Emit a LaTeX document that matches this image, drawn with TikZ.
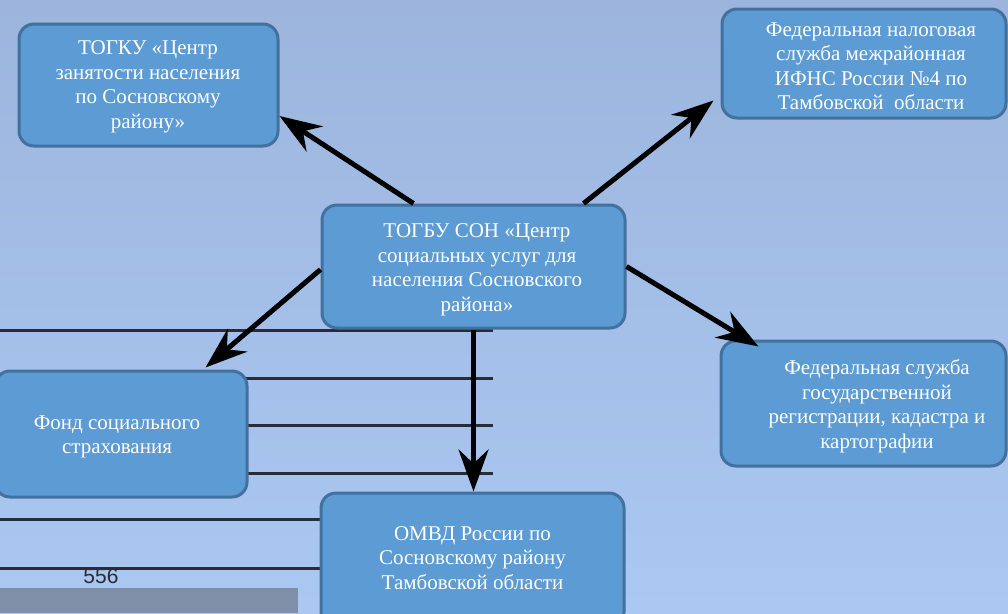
\documentclass[tikz,border=0pt]{standalone}
\usepackage{fontspec}
\setmainfont{Liberation Serif}
\newfontfamily\numfont{Liberation Sans}
\usetikzlibrary{arrows.meta}
\definecolor{bgtop}{RGB}{157,181,221}
\definecolor{bgbot}{RGB}{170,200,242}
\definecolor{boxfill}{RGB}{92,155,211}
\definecolor{boxline}{RGB}{65,113,156}
\definecolor{barfill}{RGB}{128,143,168}
\definecolor{ruleline}{RGB}{40,44,52}
\tikzset{
  orgbox/.style={draw=boxline, line width=3pt, fill=boxfill, rounded corners=15pt,
    text=white, align=center, inner sep=0pt},
  txt/.style={text=white, align=center, inner sep=0pt, font=\fontsize{21}{24.5}\selectfont},
  link/.style={line width=5pt, black, -{Stealth[length=42pt,width=30pt,inset=14pt]}},
  bgrule/.style={ruleline, line width=3pt},
}
\begin{document}
\begin{tikzpicture}[x=1pt,y=-1pt]
\useasboundingbox (0,0) rectangle (1008,613);
\clip (0,0) rectangle (1008,613);
\shade[top color=bgtop, bottom color=bgbot] (0,0) rectangle (1008,613);
% background rules of the underlying page
\foreach \yy in {330,378,425,473} \draw[bgrule] (0,\yy) -- (493,\yy);
\foreach \yy in {519,568} \draw[bgrule] (0,\yy) -- (322,\yy);
\fill[barfill] (0,588) rectangle (298,613);
\node[text=ruleline, inner sep=0pt, font=\numfont\fontsize{21}{21}\selectfont] (num) at (101,576) {556};
% boxes
\node[orgbox, minimum width=259pt, minimum height=122pt] (t) at (148.5,85) {};
\node[txt] (tt) at (148,87) {ТОГКУ «Центр\\занятости населения\\по Сосновскому\\району»};
\node[orgbox, minimum width=284pt, minimum height=109pt] (f) at (864,63.5) {};
\node[txt] (ft) at (871,66) {Федеральная налоговая\\служба межрайонная\\ИФНС России №4 по\\Тамбовской\ \ области};
\node[orgbox, minimum width=303pt, minimum height=123pt] (c) at (473.5,266.5) {};
\node[txt] (ct) at (477,270) {ТОГБУ СОН «Центр\\социальных услуг для\\населения Сосновского\\района»};
\node[orgbox, minimum width=285pt, minimum height=125pt] (r) at (863.5,403.5) {};
\node[txt] (rt) at (877,406) {Федеральная служба\\государственной\\регистрации, кадастра и\\картографии};
\node[orgbox, minimum width=252pt, minimum height=126pt] (fs) at (121,434) {};
\node[txt] (fst) at (117,437) {Фонд социального\\страхования};
\node[orgbox, minimum width=303pt, minimum height=134pt] (o) at (472.5,560) {};
\node[txt] (ot) at (472.5,558) {ОМВД России по\\Сосновскому району\\Тамбовской области};
% connectors
\draw[link] ([xshift=-60pt]c.north) -- ([yshift=-31pt]t.east);
\draw[link] ([xshift=110pt]c.north) -- ([xshift=-7pt,yshift=-37pt]f.west);
\draw[link] (c.east) -- ([xshift=39pt,yshift=-7pt]r.north west);
\draw[link] ([yshift=-3pt]c.west) -- ([xshift=-43pt,yshift=2pt]fs.north east);
\draw[link] (c.south) -- (c.south |- o.north);
\end{tikzpicture}
\end{document}
